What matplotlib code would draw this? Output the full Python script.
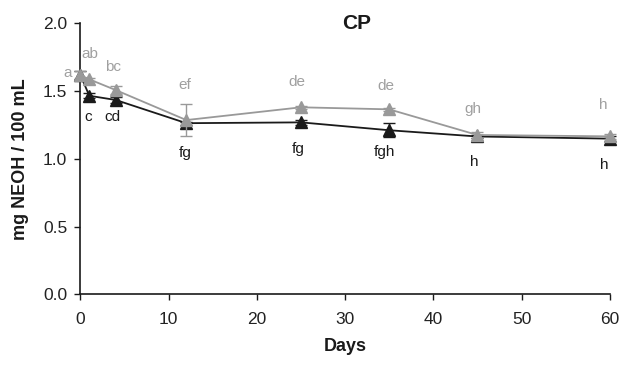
import matplotlib
matplotlib.use("Agg")
import matplotlib.pyplot as plt

plt.rcParams['font.family'] = ['Liberation Sans', 'DejaVu Sans']

days = [0, 1, 4, 12, 25, 35, 45, 60]
gray_vals = [1.617, 1.585, 1.506, 1.285, 1.379, 1.364, 1.175, 1.165]
gray_err = [0.03, 0.01, 0.03, 0.12, 0.01, 0.01, 0.02, 0.02]
black_vals = [1.617, 1.464, 1.433, 1.262, 1.268, 1.21, 1.164, 1.148]
black_err = [0.03, 0.02, 0.02, 0.01, 0.02, 0.05, 0.01, 0.02]

gray_letters = ["a", "ab", "bc", "ef", "de", "de", "gh", "h"]
gray_lx = [-1.4, 1.1, 3.7, 11.8, 24.5, 34.6, 44.5, 59.3]
gray_ly = [1.63, 1.77, 1.676, 1.54, 1.565, 1.535, 1.366, 1.396]
black_letters = ["c", "cd", "fg", "fg", "fgh", "h", "h"]
black_lx = [0.9, 3.6, 11.9, 24.7, 34.5, 44.6, 59.4]
black_ly = [1.31, 1.31, 1.04, 1.072, 1.05, 0.976, 0.954]

x_ticks = [0, 10, 20, 30, 40, 50, 60]
y_ticks = [0.0, 0.5, 1.0, 1.5, 2.0]

GRAY = "#999999"
BLACK = "#1a1a1a"

fig = plt.figure(figsize=(6.19, 3.76), dpi=100)
ax = fig.add_axes([0.130, 0.2168, 0.855, 0.722])

ax.errorbar(days, black_vals, yerr=black_err, color=BLACK, marker="^", markersize=8,
            linewidth=1.3, capsize=4, elinewidth=1, capthick=1, zorder=3, clip_on=False)
ax.errorbar(days, gray_vals, yerr=gray_err, color=GRAY, marker="^", markersize=8,
            linewidth=1.3, capsize=4, elinewidth=1, capthick=1, zorder=4, clip_on=False)

for t, x, y in zip(gray_letters, gray_lx, gray_ly):
    ax.text(x, y, t, color="#a0a0a0", fontsize=11, ha="center", va="center")
for t, x, y in zip(black_letters, black_lx, black_ly):
    ax.text(x, y, t, color=BLACK, fontsize=11, ha="center", va="center")

ax.set_xlim(0, 60)
ax.set_ylim(0, 2.0)
ax.set_xticks(x_ticks)
ax.set_yticks(y_ticks)
ax.set_yticklabels([f"{v:.1f}" for v in y_ticks])
ax.spines['top'].set_visible(False)
ax.spines['right'].set_visible(False)
for s in ['left', 'bottom']:
    ax.spines[s].set_color(BLACK)
    ax.spines[s].set_linewidth(1.2)
ax.tick_params(direction='out', length=4.5, width=1, colors=BLACK, labelsize=12.5, pad=5)
ax.tick_params(axis='y', labelcolor="#222222")
ax.tick_params(axis='x', labelcolor="#222222", pad=8)

ax.set_xlabel("Days", fontsize=13, fontweight="bold", labelpad=8, color=BLACK)
ax.set_ylabel("mg NEOH / 100 mL", fontsize=13, fontweight="bold", labelpad=10, color=BLACK)
ax.text(0.522, 1.0, "CP", transform=ax.transAxes, fontsize=15, fontweight="bold",
        color=BLACK, ha="center", va="center")

fig.savefig("out.png", dpi=100)
